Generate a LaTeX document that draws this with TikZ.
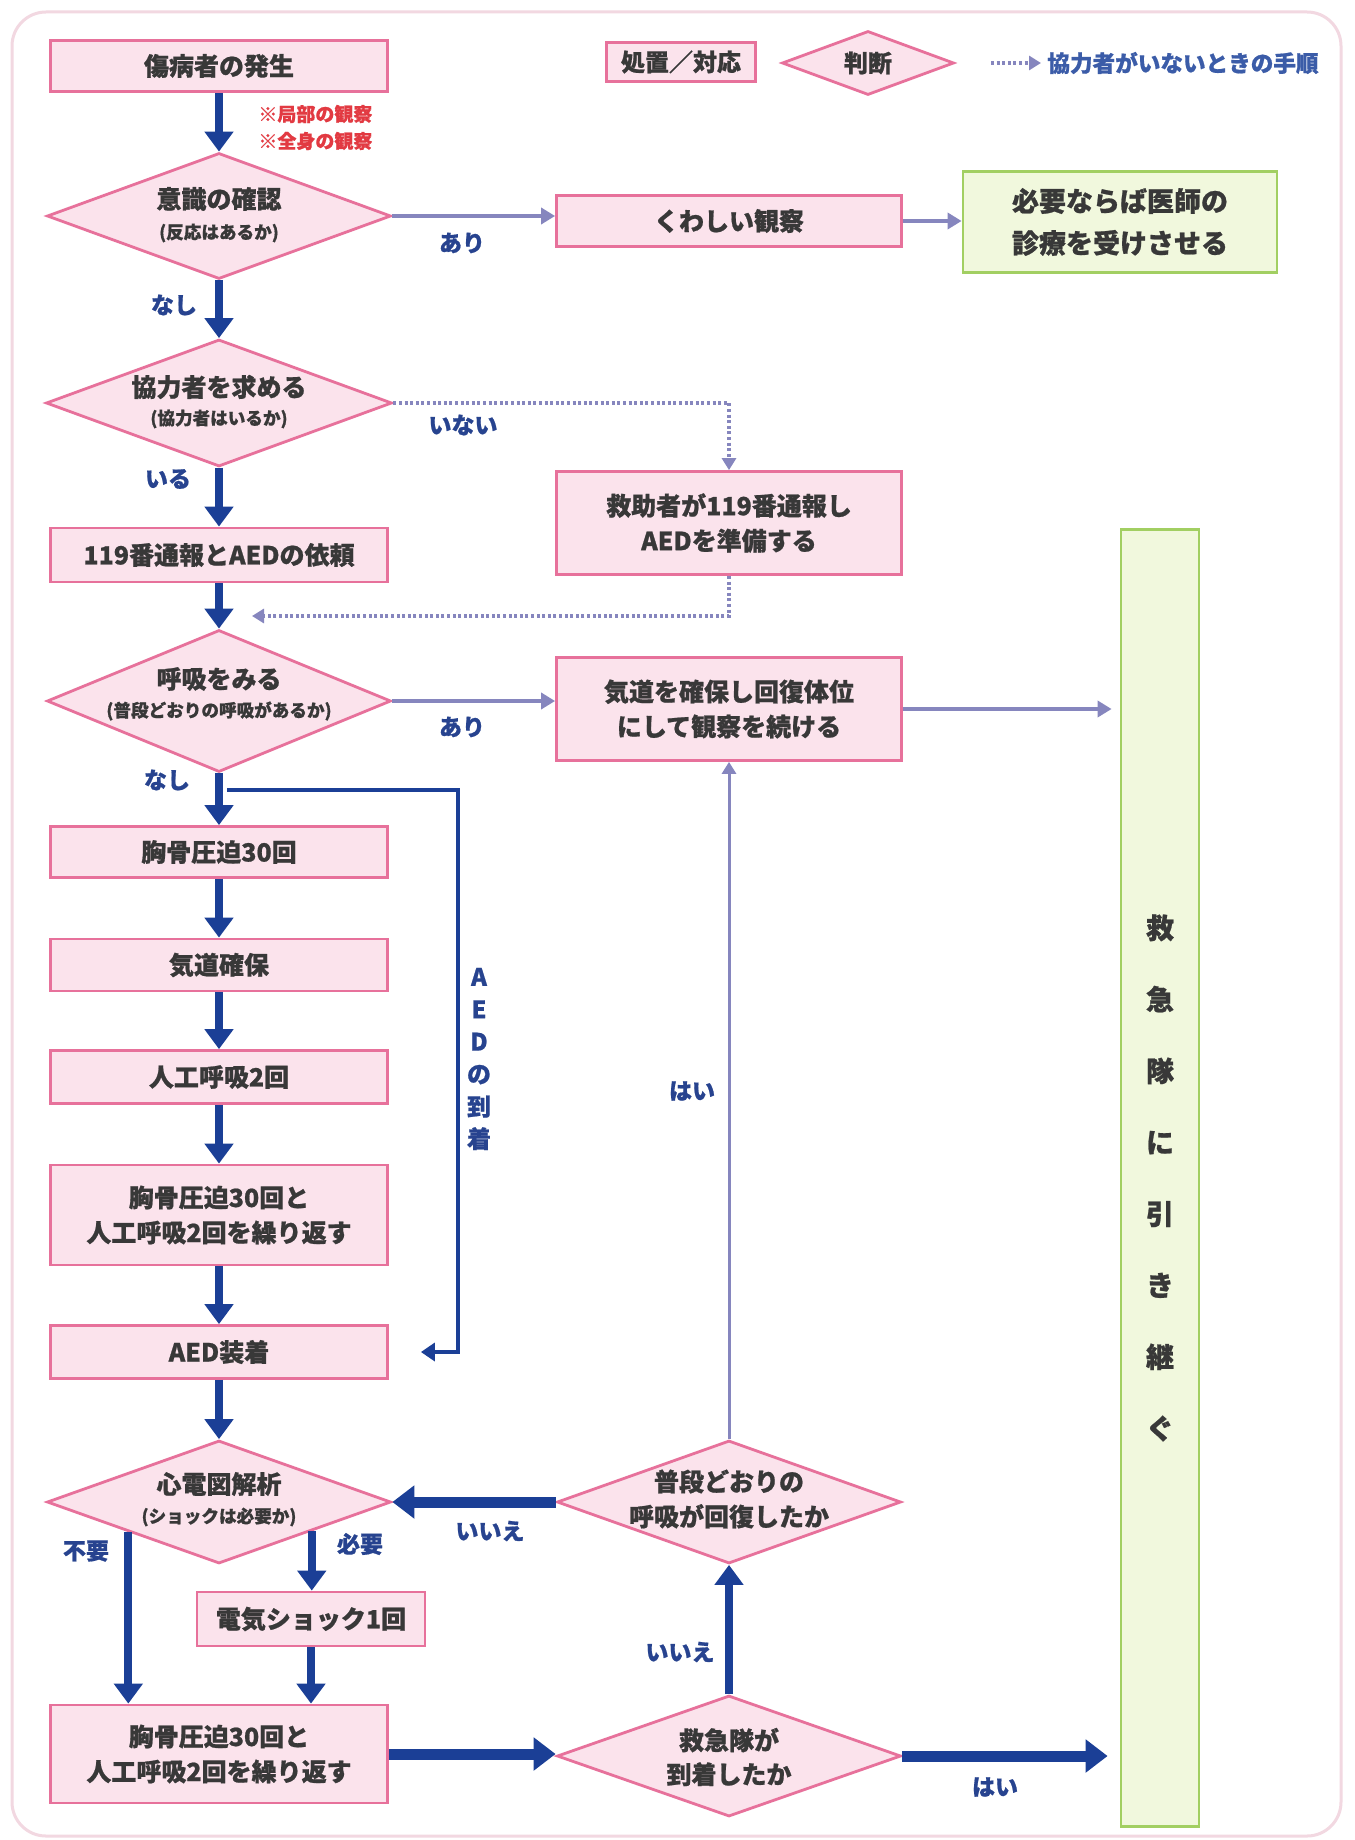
\documentclass[tikz,border=0pt]{standalone}
\usepackage{fontspec}
\setmainfont{Noto Sans CJK JP}[FakeBold=0.8]
\usetikzlibrary{shapes.geometric,arrows.meta,calc}
\definecolor{pinkfill}{HTML}{FBE3EC}
\definecolor{pinkline}{HTML}{E7719B}
\definecolor{greenfill}{HTML}{F1F8DD}
\definecolor{greenline}{HTML}{A2CF62}
\definecolor{flowblue}{HTML}{1B3F96}
\definecolor{flowpurple}{HTML}{8686BE}
\definecolor{labelblue}{HTML}{27438F}
\definecolor{legendblue}{HTML}{3B5CA8}
\definecolor{txt}{HTML}{383838}
\definecolor{framepink}{HTML}{F2D8E1}
\definecolor{notered}{HTML}{E23A42}
\begin{document}
\begin{tikzpicture}[x=0.5pt,y=-0.5pt,
  proc/.style={draw=pinkline,fill=pinkfill,line width=1.4pt,inner sep=0pt,text=txt,
    font=\bfseries\fontsize{12.5}{17.5}\selectfont,align=center},
  good/.style={draw=greenline,fill=greenfill,line width=1.4pt,inner sep=0pt,text=txt,align=center},
  dia/.style={diamond,draw=pinkline,fill=pinkfill,line width=1.4pt,inner sep=0pt},
  dtext/.style={text=txt,inner sep=0pt,font=\bfseries\fontsize{12.5}{15}\selectfont},
  dsmall/.style={text=txt,inner sep=0pt,font=\bfseries\fontsize{8.8}{11}\selectfont},
  lbl/.style={text=labelblue,inner sep=0pt,font=\bfseries\fontsize{11.5}{13}\selectfont},
  bigarrow/.style={draw=flowblue,line width=4pt,-{Triangle[width=14pt,length=10pt]}},
  widearrow/.style={draw=flowblue,line width=5.5pt,-{Triangle[width=16pt,length=11pt]}},
  softarrow/.style={draw=flowpurple,line width=2.2pt,-{Triangle[width=8pt,length=7pt]}},
  thinsoft/.style={draw=flowpurple,line width=1.5pt,-{Triangle[width=7pt,length=6pt]}},
  dotarrow/.style={draw=flowpurple,line width=1.6pt,dash pattern=on 1.5pt off 1.3pt,-{Triangle[width=7pt,length=6pt]}},
  thinblue/.style={draw=flowblue,line width=2pt,-{Triangle[width=9pt,length=7pt]}}
]
\fill[white] (0,0) rectangle (1354,1840);
\useasboundingbox (0,0) rectangle (1354,1840);
\draw[framepink,line width=1.5pt,rounded corners=17pt] (12,12) rectangle (1341,1836);

% legend
\node[proc,minimum width=74.5pt,minimum height=19.5pt,font=\bfseries\fontsize{12}{14}\selectfont] (legproc) at (681,62) {処置／対応};
\node[dia,minimum width=86pt,minimum height=32pt] (legdia) at (868,63) {};
\node[dtext,font=\bfseries\fontsize{12}{14}\selectfont] at (legdia) {判断};
\coordinate (legA) at (991,63);
\coordinate (legB) at (1041,63);
\draw[dotarrow] (legA) -- (legB);
\node[anchor=west,inner sep=0pt,text=legendblue,font=\bfseries\fontsize{11.3}{13}\selectfont] (legtext) at (1047,63) {協力者がいないときの手順};

% nodes
\node[proc,minimum width=168.5pt,minimum height=25.5pt] (start) at (219,66) {傷病者の発生};
\node[anchor=west,inner sep=0pt,text=notered,font=\bfseries\fontsize{9.5}{11}\selectfont] (note1) at (258,114) {※局部の観察};
\node[anchor=west,inner sep=0pt,text=notered,font=\bfseries\fontsize{9.5}{11}\selectfont] (note2) at (258,141) {※全身の観察};

\node[dia,minimum width=172pt,minimum height=63pt] (conscious) at (219,216) {};
\node[dtext] at ([yshift=8.5pt]conscious.center) {意識の確認};
\node[dsmall] at ([yshift=-8.5pt]conscious.center) {(反応はあるか)};

\node[proc,minimum width=172.5pt,minimum height=25.5pt] (observe) at (729,221) {くわしい観察};
\node[good,minimum width=157pt,minimum height=50.5pt,font=\bfseries\fontsize{13.5}{21}\selectfont] (doctor) at (1120,222) {必要ならば医師の\\診療を受けさせる};

\node[dia,minimum width=173pt,minimum height=63.5pt] (helper) at (219,403) {};
\node[dtext] at ([yshift=8pt]helper.center) {協力者を求める};
\node[dsmall] at ([yshift=-8pt]helper.center) {(協力者はいるか)};

\node[proc,minimum width=172.5pt,minimum height=51.5pt] (selfcall) at (729,523) {救助者が119番通報し\\AEDを準備する};
\node[proc,minimum width=168.5pt,minimum height=27pt] (call) at (219,555) {119番通報とAEDの依頼};
\coordinate (merge) at (252,616);

\node[dia,minimum width=172pt,minimum height=71pt] (breath) at (219,701) {};
\node[dtext] at ([yshift=11pt]breath.center) {呼吸をみる};
\node[dsmall] at ([yshift=-5pt]breath.center) {(普段どおりの呼吸があるか)};

\node[proc,minimum width=172.5pt,minimum height=51.5pt] (recovery) at (729,709) {気道を確保し回復体位\\にして観察を続ける};

\node[proc,minimum width=168.5pt,minimum height=25.5pt] (comp) at (219,852) {胸骨圧迫30回};
\node[proc,minimum width=168.5pt,minimum height=26pt] (airway) at (219,965) {気道確保};
\node[proc,minimum width=168.5pt,minimum height=26.5pt] (rescue) at (219,1077) {人工呼吸2回};
\node[proc,minimum width=168.5pt,minimum height=50pt] (cycle) at (219,1215) {胸骨圧迫30回と\\人工呼吸2回を繰り返す};
\node[proc,minimum width=168.5pt,minimum height=26.5pt] (aed) at (219,1352) {AED装着};

\node[dia,minimum width=172pt,minimum height=61.5pt] (ecg) at (219,1502) {};
\node[dtext] at ([yshift=9pt]ecg.center) {心電図解析};
\node[dsmall] at ([yshift=-7.5pt]ecg.center) {(ショックは必要か)};

\node[proc,minimum width=114pt,minimum height=27pt] (shock) at (311,1619) {電気ショック1回};
\node[proc,minimum width=168.5pt,minimum height=49pt] (cycle2) at (219,1754) {胸骨圧迫30回と\\人工呼吸2回を繰り返す};

\node[dia,minimum width=172pt,minimum height=61.5pt] (recovered) at (729,1502) {};
\node[dtext,align=center,font=\bfseries\fontsize{12.5}{17.5}\selectfont] at ([yshift=1.5pt]recovered.center) {普段どおりの\\呼吸が回復したか};

\node[dia,minimum width=172pt,minimum height=60.5pt] (arrived) at (729,1756) {};
\node[dtext,align=center,font=\bfseries\fontsize{12.5}{17}\selectfont] at ([yshift=-0.5pt]arrived.center) {救急隊が\\到着したか};

\node[good,minimum width=39pt,minimum height=648.5pt,font=\bfseries\fontsize{14}{35.75}\selectfont] (handover) at (1160,1178) {救\\急\\隊\\に\\引\\き\\継\\ぐ};

% connectors
\draw[bigarrow] (start.south) -- (conscious.north);
\draw[softarrow] (conscious.east) -- (conscious.east -| observe.west);
\node[lbl] at (462,243) {あり};
\draw[softarrow] (observe.east) -- (observe.east -| doctor.west);
\draw[bigarrow] (conscious.south) -- (helper.north);
\node[lbl] at (174,305) {なし};
\draw[dotarrow] (helper.east) -| (selfcall.north);
\node[lbl] at (463,425) {いない};
\draw[bigarrow] (helper.south) -- (call.north);
\node[lbl] at (168,479) {いる};
\draw[dotarrow] (selfcall.south) |- (merge);
\draw[bigarrow] (call.south) -- (breath.north);
\draw[softarrow] (breath.east) -- (breath.east -| recovery.west);
\node[lbl] at (462,727) {あり};
\draw[softarrow,shorten >=4pt] (recovery.east) -- (recovery.east -| handover.west);
\draw[bigarrow] (breath.south) -- (comp.north);
\node[lbl] at (167,780) {なし};
\draw[bigarrow] (comp.south) -- (airway.north);
\draw[bigarrow] (airway.south) -- (rescue.north);
\draw[bigarrow] (rescue.south) -- (cycle.north);
\draw[bigarrow] (cycle.south) -- (aed.north);
\draw[bigarrow] (aed.south) -- (ecg.north);

\coordinate (aedstart) at (227,790);
\coordinate (aedturn) at (458,790);
\draw[thinblue,shorten >=16pt] (aedstart) -- (aedturn) |- (aed.east);
\node[text=labelblue,inner sep=0pt,align=center,font=\bfseries\fontsize{12}{16.2}\selectfont] at (479,1059) {A\\E\\D\\の\\到\\着};

\coordinate (nogo) at ($(ecg.south)!0.523!(ecg.west)$);
\coordinate (go) at ($(ecg.south)!0.535!(ecg.east)$);
\draw[bigarrow] (nogo) -- (nogo |- cycle2.north);
\node[lbl] at (86,1551) {不要};
\draw[bigarrow] (go) -- (go |- shock.north);
\node[lbl] at (360,1544) {必要};
\draw[bigarrow] (shock.south) -- (shock.south |- cycle2.north);

\draw[widearrow] (cycle2.east) -- (cycle2.east -| arrived.west);
\draw[widearrow,shorten >=6pt] (arrived.east) -- (arrived.east -| handover.west);
\node[lbl] at (995,1787) {はい};
\draw[bigarrow] (arrived.north) -- (recovered.south);
\node[lbl] at (680,1652) {いいえ};
\draw[widearrow] (recovered.west) -- (ecg.east);
\node[lbl] at (490,1531) {いいえ};
\draw[thinsoft] (recovered.north) -- (recovery.south);
\node[lbl] at (692,1091) {はい};
\end{tikzpicture}
\end{document}
